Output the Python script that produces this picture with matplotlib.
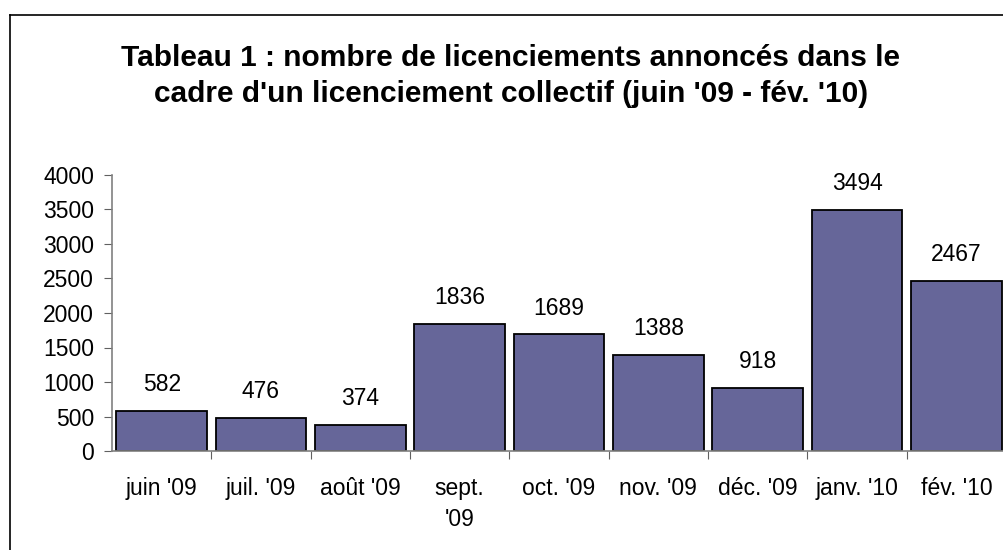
import matplotlib.pyplot as plt
from matplotlib.lines import Line2D

plt.rcParams['font.family'] = ['Liberation Sans', 'DejaVu Sans']

months = ['juin \'09', 'juil. \'09', 'août \'09', 'sept.\n\'09', 'oct. \'09',
          'nov. \'09', 'déc. \'09', 'janv. \'10', 'fév. \'10']
licenciements = [582, 476, 374, 1836, 1689, 1388, 918, 3494, 2467]
yticks = [0, 500, 1000, 1500, 2000, 2500, 3000, 3500, 4000]

W, H = 1004, 550
fig = plt.figure(figsize=(W / 100, H / 100), dpi=100)

# chart border (the picture is cropped: only left and top edges show)
fig.add_artist(Line2D([10 / W, 10 / W], [0, 1 - 15 / H], color='black', lw=1.2))
fig.add_artist(Line2D([10 / W, 1], [1 - 15 / H, 1 - 15 / H], color='black', lw=1.2))

ax = fig.add_axes([112 / W, 99 / H, 894 / W, 276 / H])
x = range(len(months))
bars = ax.bar(x, licenciements, width=0.91, color='#666699', edgecolor='black', linewidth=1.3)

for b, v in zip(bars, licenciements):
    ax.annotate(str(v), (b.get_x() + b.get_width() / 2, v), xytext=(0, 19),
                textcoords='offset points', ha='center', va='center', fontsize=16.5)

ax.set_xlim(-0.5, len(months) - 0.5)
ax.set_ylim(0, 4000)
ax.set_yticks(yticks)
ax.set_yticklabels([str(t) for t in yticks], fontsize=16.5)
ax.set_xticks([i + 0.5 for i in range(len(months) - 1)])
ax.set_xticklabels([])
ax.set_xticks(list(x), minor=True)
ax.set_xticklabels(months, minor=True, fontsize=16.5, va='top', linespacing=1.4)
ax.tick_params(axis='x', which='minor', length=0, pad=19)
ax.tick_params(axis='x', which='major', length=6, color='#606060', direction='out')
ax.tick_params(axis='y', length=6, color='#606060', pad=7)

for s in ['top', 'right']:
    ax.spines[s].set_visible(False)
for s in ['left', 'bottom']:
    ax.spines[s].set_color('#808080')
    ax.spines[s].set_linewidth(1.2)

fig.text(511 / W, 1 - 76 / H,
         "Tableau 1 : nombre de licenciements annoncés dans le\n"
         "cadre d'un licenciement collectif (juin '09 - fév. '10)",
         ha='center', va='center', fontsize=21.5, fontweight='bold', linespacing=1.34)

fig.savefig('out.png', dpi=100)
